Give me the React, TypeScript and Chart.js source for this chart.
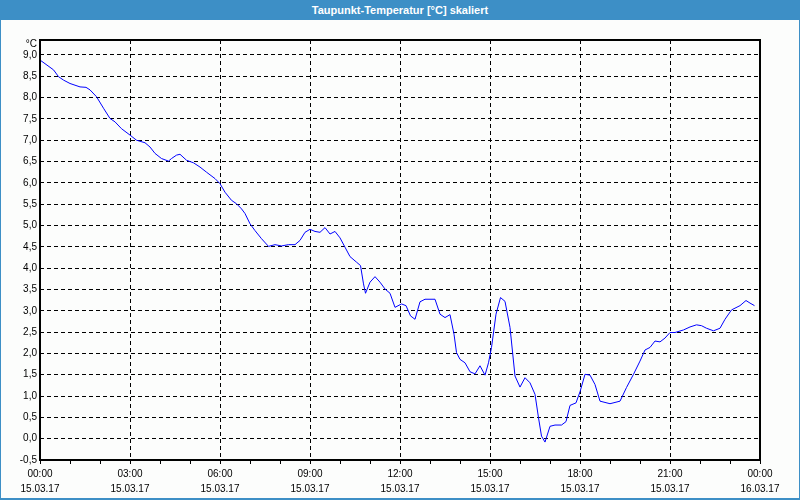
import { useEffect, useRef } from 'react';
import { Chart, registerables } from 'chart.js';

Chart.register(...registerables);

const TITLE = 'Taupunkt-Temperatur [°C] skaliert';
const UNIT = '°C';

// minutes since 15.03.17 00:00
const minutes = [
  0, 27, 37, 47, 60, 80, 92, 100, 113, 127, 140, 150, 163, 180, 193, 210, 220, 230, 243, 257,
  263, 273, 280, 293, 307, 320, 333, 350, 360, 370, 383, 393, 403, 410, 420, 430, 443, 457, 470, 483,
  497, 510, 520, 530, 540, 550, 560, 570, 580, 590, 600, 610, 620, 633, 641, 647, 651, 660, 670, 680,
  690, 700, 710, 723, 732, 741, 750, 760, 770, 790, 800, 810, 820, 828, 833, 840, 850, 860, 870, 880,
  890, 897, 903, 912, 921, 930, 940, 950, 960, 970, 980, 990, 997, 1003, 1010, 1020, 1030, 1043, 1052, 1060,
  1072, 1080, 1090, 1100, 1110, 1120, 1140, 1160, 1173, 1187, 1200, 1210, 1220, 1230, 1240, 1250, 1260, 1270, 1287, 1300,
  1313, 1323, 1333, 1347, 1360, 1370, 1383, 1400, 1412, 1420, 1429,
];

const dewPoint = [
  8.88, 8.65, 8.49, 8.41, 8.33, 8.25, 8.24, 8.18, 8.02, 7.75, 7.51, 7.43, 7.27, 7.12, 7.0, 6.94, 6.84, 6.69, 6.57, 6.51,
  6.57, 6.65, 6.67, 6.53, 6.47, 6.37, 6.25, 6.1, 5.98, 5.78, 5.59, 5.51, 5.39, 5.28, 5.04, 4.88, 4.69, 4.51, 4.55, 4.52,
  4.55, 4.55, 4.65, 4.84, 4.91, 4.86, 4.84, 4.95, 4.8, 4.86, 4.71, 4.49, 4.27, 4.14, 4.06, 3.63, 3.41, 3.67, 3.8, 3.67,
  3.51, 3.41, 3.08, 3.16, 3.12, 2.88, 2.8, 3.21, 3.27, 3.27, 2.92, 2.84, 2.91, 2.45, 2.02, 1.86, 1.78, 1.57, 1.52, 1.71,
  1.49, 1.78, 2.14, 2.92, 3.31, 3.22, 2.61, 1.47, 1.21, 1.43, 1.31, 1.04, 0.49, 0.06, -0.08, 0.29, 0.32, 0.32, 0.4, 0.78,
  0.84, 1.1, 1.51, 1.49, 1.27, 0.88, 0.82, 0.88, 1.2, 1.51, 1.82, 2.08, 2.14, 2.29, 2.27, 2.36, 2.49, 2.49, 2.55, 2.62,
  2.67, 2.65, 2.59, 2.53, 2.59, 2.8, 3.02, 3.12, 3.24, 3.18, 3.12,
];

const timeLabels = ['00:00', '03:00', '06:00', '09:00', '12:00', '15:00', '18:00', '21:00', '00:00'];
const dateLabels = ['15.03.17', '15.03.17', '15.03.17', '15.03.17', '15.03.17', '15.03.17', '15.03.17', '15.03.17', '16.03.17'];

const X_MIN = 0;
const X_MAX = 1440;
const X_MAJOR = 180;
const X_MINOR = 60;
const Y_MIN = -0.5;
const Y_MAX = 9.35;
const Y_STEP = 0.5;

const FONT_FAMILY = '"Liberation Sans", Arial, sans-serif';

const framePlugin = {
  id: 'frame',
  afterDraw(chart: any) {
    const { ctx, chartArea } = chart;
    const { left, top, right, bottom } = chartArea;
    ctx.save();
    ctx.strokeStyle = '#000';
    ctx.lineWidth = 2;
    ctx.strokeRect(Math.round(left), Math.round(top), Math.round(right - left), Math.round(bottom - top));
    ctx.fillStyle = '#000';
    ctx.font = `10px ${FONT_FAMILY}`;
    ctx.textAlign = 'right';
    ctx.textBaseline = 'middle';
    ctx.fillText(UNIT, left - 3, top + 4);
    ctx.restore();
  },
};

export default function App() {
  const canvasRef = useRef<HTMLCanvasElement | null>(null);

  useEffect(() => {
    const canvas = canvasRef.current;
    if (!canvas) return;
    const points = minutes.map((m, i) => ({ x: m, y: dewPoint[i] }));
    const chart = new Chart(canvas, {
      type: 'line',
      data: {
        datasets: [
          {
            data: points,
            borderColor: '#0000ff',
            borderWidth: 1,
            pointRadius: 0,
            tension: 0,
            fill: false,
          },
        ],
      },
      options: {
        animation: false,
        responsive: false,
        devicePixelRatio: 1,
        layout: { padding: { left: 0, top: 20, right: 39, bottom: 0 } },
        plugins: { legend: { display: false }, tooltip: { enabled: false }, title: { display: false } },
        scales: {
          x: {
            type: 'linear',
            min: X_MIN,
            max: X_MAX,
            afterBuildTicks: (scale: any) => {
              const t = [];
              for (let v = X_MIN; v <= X_MAX; v += X_MINOR) t.push({ value: v });
              scale.ticks = t;
            },
            afterFit: (scale: any) => {
              scale.height = 38;
            },
            ticks: {
              autoSkip: false,
              maxRotation: 0,
              minRotation: 0,
              padding: 3,
              color: '#000',
              font: { family: FONT_FAMILY, size: 10, lineHeight: 1.5 },
              callback: (v: any) => {
                const n = Number(v);
                if (n % X_MAJOR !== 0) return '';
                const i = n / X_MAJOR;
                return [timeLabels[i], dateLabels[i]];
              },
            },
            grid: {
              color: (c: any) => (c.tick && c.tick.value % X_MAJOR === 0 ? '#000' : 'rgba(0,0,0,0)'),
              tickColor: '#000',
              tickLength: 4,
              lineWidth: 1,
              drawTicks: true,
            },
            border: { display: false, dash: [4, 3] },
          },
          y: {
            type: 'linear',
            min: Y_MIN,
            max: Y_MAX,
            afterFit: (scale: any) => {
              scale.width = 39;
            },
            ticks: {
              stepSize: Y_STEP,
              includeBounds: false,
              padding: 3,
              color: '#000',
              font: { family: FONT_FAMILY, size: 10 },
              callback: (v: any) => Number(v).toFixed(1).replace('.', ','),
            },
            grid: { color: '#000', lineWidth: 1, drawTicks: false },
            border: { display: false, dash: [4, 3] },
          },
        },
      },
      plugins: [framePlugin],
    });
    return () => chart.destroy();
  }, []);

  return (
    <div
      style={{
        position: 'fixed',
        left: 0,
        top: 0,
        width: 800,
        height: 500,
        background: '#3d8fc6',
        overflow: 'hidden',
      }}
    >
      <div
        style={{
          position: 'absolute',
          left: 0,
          top: 0,
          width: 800,
          height: 20,
          lineHeight: '20px',
          textAlign: 'center',
          color: '#fff',
          fontFamily: FONT_FAMILY,
          fontWeight: 'bold',
          fontSize: 11,
        }}
      >
        {TITLE}
      </div>
      <div
        style={{
          position: 'absolute',
          left: 1,
          top: 20,
          width: 798,
          height: 478,
          background: '#fcfdfc',
        }}
      >
        <canvas ref={canvasRef} width={798} height={478} style={{ display: 'block' }} />
      </div>
    </div>
  );
}
